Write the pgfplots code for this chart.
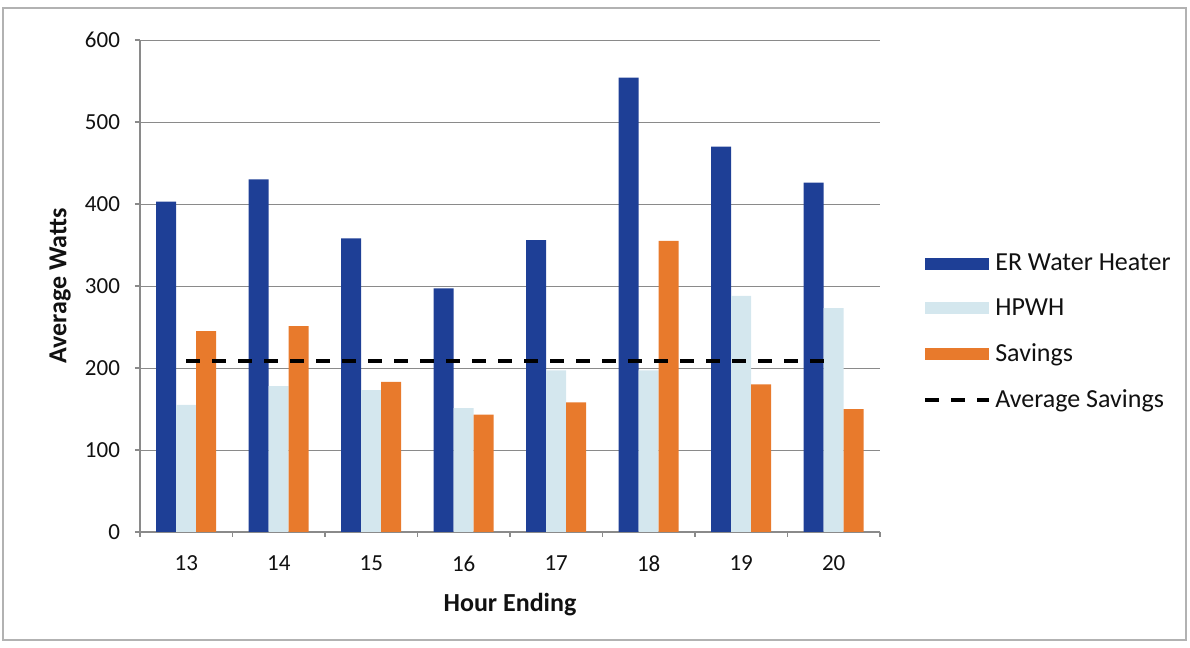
\documentclass[border=0pt]{standalone}
\usepackage{fontspec}
\setmainfont{Carlito}
\usepackage{pgfplots}
\pgfplotsset{compat=1.18}
\definecolor{erblue}{HTML}{1E3F96}
\definecolor{hpwh}{HTML}{D4E7EE}
\definecolor{sav}{HTML}{E87A2C}
\definecolor{gridc}{HTML}{8A8A8A}
\definecolor{txt}{HTML}{111111}
\begin{document}
\begin{tikzpicture}
\useasboundingbox (-70pt,-58pt) rectangle (525pt,266pt);
\draw[gray!60, line width=0.8pt] (-68.5pt,-54pt) rectangle (523pt,262pt);
\begin{axis}[
  at={(0pt,0pt)}, anchor=south west,
  scale only axis, width=370pt, height=246pt,
  xmin=12.5, xmax=20.5, ymin=0, ymax=600,
  ytick={0,100,...,600},
  xtick={12.5,13.5,...,20.5},
  xticklabels={13,14,15,16,17,18,19,20},
  x tick label as interval,
  axis x line*=bottom, axis y line*=left,
  axis line style={draw=gridc, line width=0.6pt, -},
  ymajorgrids, grid style={draw=gridc, line width=0.5pt},
  tick align=outside, major tick length=2.5pt,
  tick style={draw=gridc, line width=0.6pt},
  /pgf/number format/assume math mode=true,
  ticklabel style={font=\fontsize{11.5}{13}\selectfont, text=txt},
  yticklabel style={xshift=-4pt},
  xticklabel style={yshift=-6pt},
  xlabel={\textbf{Hour Ending}}, ylabel={\textbf{Average Watts}},
  label style={font=\fontsize{13}{15}\selectfont, text=txt},
  xlabel style={at={(axis description cs:0.5,-0.148)}, anchor=center},
  ylabel style={at={(axis description cs:-0.108,0.5)}, anchor=center},
  legend style={at={(axis description cs:1.058,0.4065)}, anchor=west,
    draw=none, fill=none, inner sep=0pt, row sep=8.5pt,
    font=\fontsize{13}{15}\selectfont, text=txt},
  legend cell align=left,
]
\addplot[ybar, bar width=10pt, bar shift=-10pt, fill=erblue, draw=none,
  legend image code/.code={\fill[erblue] (0pt,-3pt) rectangle (32pt,3pt);}]
  coordinates {(13,403) (14,430) (15,358) (16,297) (17,356) (18,554) (19,470) (20,426)};
\addlegendentry{ER Water Heater}
\addplot[ybar, bar width=10pt, bar shift=0pt, fill=hpwh, draw=none,
  legend image code/.code={\fill[hpwh] (0pt,-3pt) rectangle (32pt,3pt);}]
  coordinates {(13,155) (14,178) (15,173) (16,151) (17,197) (18,197) (19,288) (20,273)};
\addlegendentry{HPWH}
\addplot[ybar, bar width=10pt, bar shift=10pt, fill=sav, draw=none,
  legend image code/.code={\fill[sav] (0pt,-3pt) rectangle (32pt,3pt);}]
  coordinates {(13,245) (14,251) (15,183) (16,143) (17,158) (18,355) (19,180) (20,150)};
\addlegendentry{Savings}
\addplot[black, line width=2pt, dash pattern=on 7pt off 6pt, mark=none,
  legend image code/.code={\draw[black, line width=2pt, dash pattern=on 7pt off 6pt] (0pt,0pt) -- (32pt,0pt);}]
  coordinates {(13,208) (20,208)};
\addlegendentry{Average Savings}
\end{axis}
\end{tikzpicture}
\end{document}
